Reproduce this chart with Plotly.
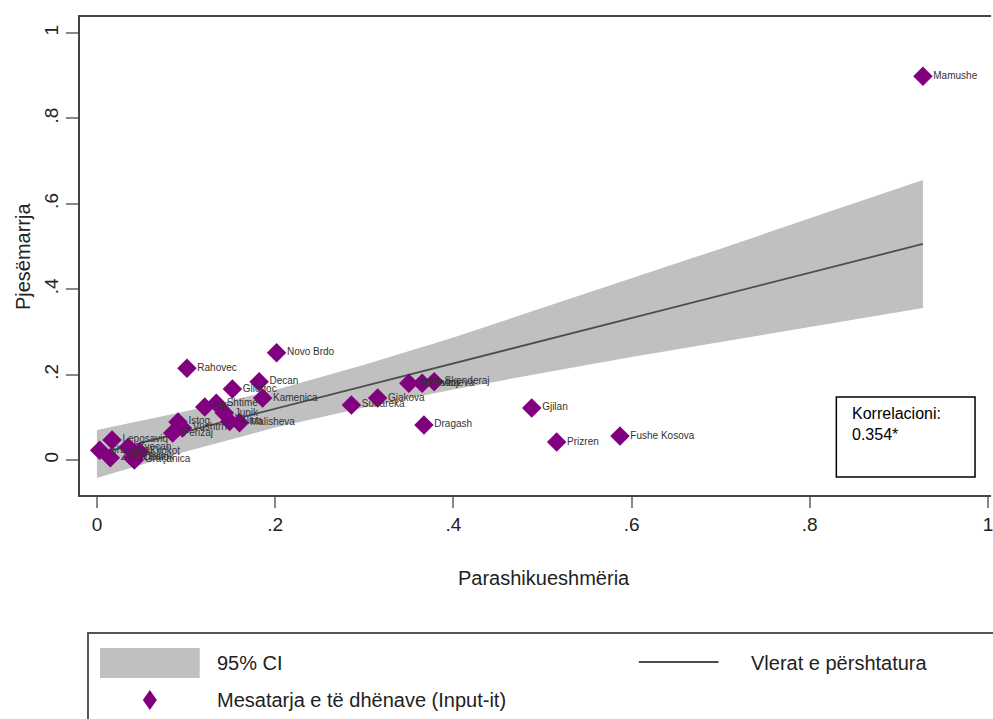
import plotly.graph_objects as go

# ---- data ----
municipalities = ["Mamushe", "Novo Brdo", "Rahovec", "Decan", "Gllogoc", "Kamenica",
                  "Shtime", "Viti", "Junik", "Klina", "Malisheva", "Istog", "Vushtrri",
                  "Ferizaj", "Shtërpca", "Leposaviq", "Zubin Potok", "Zveçan", "Obiliq",
                  "Kllokot", "Graçanica", "Suhareka", "Gjakova", "Dragash", "Mitrovica",
                  "Podujeva", "Skenderaj", "Gjilan", "Prizren", "Fushe Kosova"]
predictability = [0.927, 0.2016, 0.101, 0.182, 0.152, 0.186,
                  0.134, 0.121, 0.143, 0.149, 0.160, 0.091, 0.096,
                  0.085, 0.003, 0.017, 0.015, 0.035, 0.040,
                  0.048, 0.042, 0.2856, 0.315, 0.367, 0.350,
                  0.365, 0.3785, 0.488, 0.516, 0.587]
participation = [0.899, 0.251, 0.215, 0.183, 0.166, 0.145,
                 0.133, 0.124, 0.110, 0.090, 0.087, 0.089, 0.075,
                 0.063, 0.023, 0.047, 0.005, 0.030, 0.005,
                 0.019, 0.000, 0.129, 0.145, 0.082, 0.180,
                 0.180, 0.183, 0.122, 0.042, 0.056]

fit_x = [0.0, 0.1, 0.2, 0.3, 0.4, 0.5, 0.6, 0.7, 0.8, 0.927]
fit_y = [0.014, 0.067, 0.120, 0.173, 0.226, 0.280, 0.333, 0.386, 0.439, 0.506]
ci_upper = [0.070, 0.114, 0.164, 0.223, 0.287, 0.356, 0.425, 0.495, 0.566, 0.656]
ci_lower = [-0.042, 0.020, 0.076, 0.123, 0.165, 0.204, 0.241, 0.277, 0.312, 0.356]

x_ticks = [0, 0.2, 0.4, 0.6, 0.8, 1]
x_ticktext = ["0", ".2", ".4", ".6", ".8", "1"]
y_ticks = [0, 0.2, 0.4, 0.6, 0.8, 1]
y_ticktext = ["0", ".2", ".4", ".6", ".8", "1"]

FONT = "Liberation Sans, Arial, sans-serif"
PURPLE = "#800080"
BAND = "#c0c0c0"
LINEC = "#4d4d4d"

fig = go.Figure()

fig.add_trace(go.Scatter(
    x=fit_x + fit_x[::-1], y=ci_upper + ci_lower[::-1],
    fill="toself", fillcolor=BAND, line=dict(width=0), mode="lines",
    hoverinfo="skip", name="95% CI"))
fig.add_trace(go.Scatter(
    x=fit_x, y=fit_y, mode="lines", line=dict(color=LINEC, width=1.8),
    name="Vlerat e përshtatura"))
fig.add_trace(go.Scatter(
    x=predictability, y=participation, mode="markers+text",
    marker=dict(symbol="diamond", size=15, color=PURPLE, line=dict(width=0)),
    text=municipalities, textposition="middle right",
    textfont=dict(family=FONT, size=10, color="#333333"),
    name="Mesatarja e të dhënave (Input-it)"))

W, H = 993, 719
L, R, T, B = 80, 0, 17, 224


def px(x):
    return (x - L) / (W - L - R)


def py(y):
    return (H - B - y) / (H - B - T)


shapes = []
annotations = []

# correlation box
shapes.append(dict(type="rect", xref="paper", yref="paper",
                   x0=px(838), x1=px(977), y0=py(477), y1=py(397),
                   line=dict(color="#000000", width=1.5)))
annotations.append(dict(xref="paper", yref="paper", x=px(852), y=py(403),
                        xanchor="left", yanchor="top", align="left",
                        text="Korrelacioni:<br>0.354*", showarrow=False,
                        font=dict(family=FONT, size=16, color="#000000")))

# axis titles
annotations.append(dict(xref="paper", yref="paper", x=px(23), y=py(256),
                        text="Pjesëmarrja", textangle=-90, showarrow=False,
                        xanchor="center", yanchor="middle",
                        font=dict(family=FONT, size=20, color="#222222")))
annotations.append(dict(xref="paper", yref="paper", x=px(545), y=py(578),
                        text="Parashikueshmëria", showarrow=False,
                        xanchor="center", yanchor="middle",
                        font=dict(family=FONT, size=20, color="#222222")))

# legend (manual)
shapes.append(dict(type="rect", xref="paper", yref="paper",
                   x0=px(88), x1=px(1010), y0=py(740), y1=py(633),
                   line=dict(color="#555555", width=2)))
shapes.append(dict(type="rect", xref="paper", yref="paper",
                   x0=px(100), x1=px(200), y0=py(678), y1=py(648),
                   fillcolor=BAND, line=dict(width=0)))
shapes.append(dict(type="line", xref="paper", yref="paper",
                   x0=px(640), x1=px(720), y0=py(662), y1=py(662),
                   line=dict(color=LINEC, width=2)))
cx, cy = 150, 700
shapes.append(dict(type="path", xref="paper", yref="paper",
                   path=f"M {px(cx-7)},{py(cy)} L {px(cx)},{py(cy-10)} L {px(cx+7)},{py(cy)} L {px(cx)},{py(cy+10)} Z",
                   fillcolor=PURPLE, line=dict(width=0)))
for txt, x0, y0 in [("95% CI", 215, 663), ("Vlerat e përshtatura", 750, 663),
                    ("Mesatarja e të dhënave (Input-it)", 215, 700)]:
    annotations.append(dict(xref="paper", yref="paper", x=px(x0), y=py(y0),
                            text=txt, showarrow=False, xanchor="left", yanchor="middle",
                            font=dict(family=FONT, size=20, color="#222222")))

fig.update_layout(
    width=W, height=H, margin=dict(l=L, r=R, t=T, b=B),
    paper_bgcolor="white", plot_bgcolor="white", showlegend=False,
    shapes=shapes, annotations=annotations,
    xaxis=dict(range=[-0.019, 1.0034], tickvals=x_ticks, ticktext=x_ticktext,
               showgrid=False, zeroline=False, showline=True, mirror=True,
               linecolor="#444444", linewidth=2, ticks="outside", ticklen=11,
               tickcolor="#888888", tickwidth=2, ticklabeloverflow="allow",
               tickfont=dict(family=FONT, size=19, color="#222222")),
    yaxis=dict(range=[-0.082, 1.0375], tickvals=y_ticks, ticktext=y_ticktext,
               showgrid=False, zeroline=False, showline=True, mirror=False,
               linecolor="#444444", linewidth=2, ticks="outside", ticklen=12,
               tickcolor="#888888", tickwidth=2, tickangle=-90,
               tickfont=dict(family=FONT, size=19, color="#222222")),
)

fig.write_html("out.html", config={"displayModeBar": False})
